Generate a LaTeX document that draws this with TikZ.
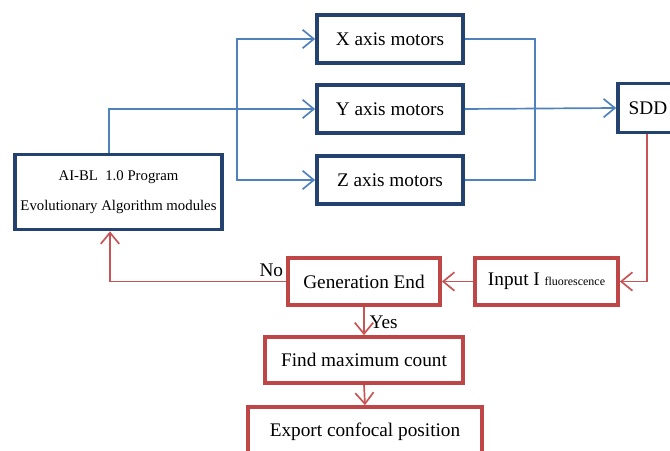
\documentclass[tikz,border=0pt]{standalone}
\usepackage{fontspec}
\setmainfont{Liberation Serif}
\usepackage{xcolor}
\usepackage{tikz}
\usetikzlibrary{arrows.meta, positioning, calc}
\definecolor{navyborder}{RGB}{36,66,112}
\definecolor{blueline}{RGB}{79,129,189}
\definecolor{redborder}{RGB}{190,70,70}
\definecolor{redline}{RGB}{200,85,85}
\tikzset{
    bluebox/.style={
        rectangle,
        draw=navyborder,
        line width=2.6pt,
        fill=white,
        align=center,
        inner sep=2pt,
        font=\fontsize{13.7}{16}\selectfont
    },
    redbox/.style={
        rectangle,
        draw=redborder,
        line width=2.6pt,
        fill=white,
        align=center,
        inner sep=2pt,
        font=\fontsize{13.7}{16}\selectfont
    },
    lbl/.style={
        font=\fontsize{13.7}{16}\selectfont,
        inner sep=1pt
    }
}

\begin{document}
\begin{tikzpicture}[
    x=0.025cm, y=-0.025cm,
    bluearrow/.style={
        -{Straight Barb[length=2.8mm,width=4.6mm]},
        draw=blueline,
        line width=1.2pt
    },
    blueline/.style={
        draw=blueline,
        line width=1.2pt
    },
    redarrow/.style={
        -{Straight Barb[length=2.8mm,width=4.6mm]},
        draw=redline,
        line width=1.2pt
    }
]
\clip (0,0) rectangle (670,451);

% =========================
% Programma e motori
% =========================
\node[bluebox, minimum width=5.175cm, minimum height=1.875cm,
      font=\fontsize{10.5}{21}\selectfont] (program) at (118.5,192)
    {AI-BL\ \ 1.0 Program\\Evolutionary Algorithm modules};

\node[bluebox, minimum width=3.65cm, minimum height=1.2cm] (xmotors) at (390,39) {X axis motors};
\node[bluebox, minimum width=3.65cm, minimum height=1.2cm] (ymotors) at (390,109) {Y axis motors};
\node[bluebox, minimum width=3.65cm, minimum height=1.2cm] (zmotors) at (390,180) {Z axis motors};

\node[bluebox, minimum width=1.5cm, minimum height=1.225cm] (sdd) at (648,108) {SDD};

% =========================
% Blocchi del ciclo
% =========================
\node[redbox, minimum width=3.575cm, minimum height=1.175cm] (input) at (546.5,281.5)
    {Input I {\fontsize{8.5}{10}\selectfont fluorescence}};
\node[redbox, minimum width=3.8cm, minimum height=1.175cm] (genend) at (364,281.5) {Generation End};
\node[redbox, minimum width=4.95cm, minimum height=1.15cm] (findmax) at (364,360) {Find maximum count};
\node[redbox, minimum width=5.85cm, minimum height=1.25cm] (export) at (365,432) {Export confocal position};

% =========================
% Frecce blu
% =========================
\coordinate (split) at (237,109);
\coordinate (merge) at (535,109);

\draw[bluearrow] ($(program.north)+(-9.5,0)$) |- (ymotors.west);
\draw[bluearrow] (split) |- (xmotors.west);
\draw[bluearrow] (split) |- (zmotors.west);

\draw[blueline] (xmotors.east) -| (merge);
\draw[blueline] (zmotors.east) -| (merge);
\draw[bluearrow] (ymotors.east) -- (sdd.west);

% =========================
% Frecce rosse
% =========================
\draw[redarrow] ($(sdd.south)+(-1,0)$) |- (input.east);
\draw[redarrow] (input.west) -- (genend.east);
\draw[redarrow] (genend.west) -| ($(program.south)+(-8.5,0)$);
\node[lbl, above left=2pt and 1pt of genend.west] (nolbl) {No};

\draw[redarrow] (genend.south) -- (findmax.north);
\node[lbl, anchor=west] (yeslbl) at ($(genend.south)+(4,15)$) {Yes};

\draw[redarrow] (findmax.south) -- (export.north);

\end{tikzpicture}
\end{document}
